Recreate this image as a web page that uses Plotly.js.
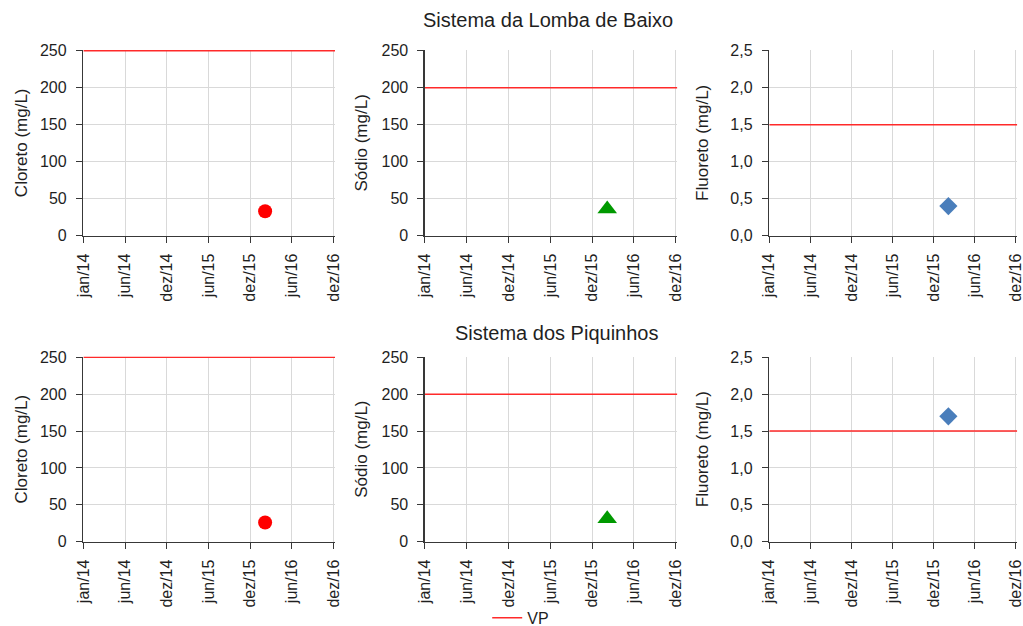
<!DOCTYPE html>
<html>
<head>
<meta charset="utf-8">
<script src="https://cdn.plot.ly/plotly-3.0.1.min.js"></script>
<style>html,body{margin:0;padding:0;background:#fff;}#chart{width:1023px;height:626px;}</style>
</head>
<body>
<div id="chart"></div>
<script>
// ---- data ----
const systems = ['Sistema da Lomba de Baixo', 'Sistema dos Piquinhos'];
const params = ['Cloreto (mg/L)', 'Sódio (mg/L)', 'Fluoreto (mg/L)'];
const sampleDates = ['2016-02-25'];
const cloretoLomba = [33];
const sodioLomba = [36];
const fluoretoLomba = [0.4];
const cloretoPiquinhos = [26];
const sodioPiquinhos = [31];
const fluoretoPiquinhos = [1.7];
const vpValues = [250, 200, 1.5];
const vpDates = ['2014-01-01', '2016-12-23'];
const tickDates = ['2014-01-01', '2014-06-30', '2014-12-27', '2015-06-25', '2015-12-22', '2016-06-19', '2016-12-16'];
const tickLabels = ['jan/14', 'jun/14', 'dez/14', 'jun/15', 'dez/15', 'jun/16', 'dez/16'];
const yMax = [250, 250, 2.5];
const yStep = [50, 50, 0.5];

// ---- styles ----
const markerStyles = [
  {symbol: 'circle', color: '#ff0000', size: 14},
  {symbol: 'triangle-up', color: '#009900', size: 17},
  {symbol: 'diamond', color: '#4a7ebb', size: 14}
];
const seriesRows = [
  [cloretoLomba, sodioLomba, fluoretoLomba],
  [cloretoPiquinhos, sodioPiquinhos, fluoretoPiquinhos]
];

const xDomains = [[0.0815, 0.3275], [0.4154, 0.6621], [0.752, 0.9944]];
const yDomains = [[0.6235, 0.9202], [0.1347, 0.4304]];
const yPadFrac = 0.004; // small headroom so a limit line at the top is not clipped
const titleStandoff = [8, 9, 17];
const fontFam = '"Liberation Sans", Arial, sans-serif';
const txtColor = '#1f1f1f';
const axisColor = '#383838';

const traces = [];
const layout = {
  width: 1023, height: 626,
  margin: {l: 0, r: 0, t: 0, b: 0, autoexpand: false},
  paper_bgcolor: '#fff', plot_bgcolor: '#fff',
  separators: ', ',
  font: {family: fontFam, size: 16, color: txtColor},
  showlegend: true,
  legend: {x: 0.509, xanchor: 'center', y: 0.013, yanchor: 'middle', orientation: 'h',
           font: {size: 16, color: txtColor}, bgcolor: 'rgba(0,0,0,0)'},
  annotations: []
};

let idx = 0;
for (let r = 0; r < 2; r++) {
  for (let c = 0; c < 3; c++) {
    idx++;
    const xa = 'x' + (idx === 1 ? '' : idx);
    const ya = 'y' + (idx === 1 ? '' : idx);
    traces.push({
      x: vpDates, y: [vpValues[c], vpValues[c]],
      xaxis: xa, yaxis: ya, mode: 'lines', name: 'VP',
      line: {color: '#ff2a2a', width: 1.5},
      showlegend: idx === 1, hoverinfo: 'skip', cliponaxis: false
    });
    traces.push({
      x: sampleDates, y: seriesRows[r][c],
      xaxis: xa, yaxis: ya, mode: 'markers', showlegend: false,
      marker: {symbol: markerStyles[c].symbol, color: markerStyles[c].color, size: markerStyles[c].size},
      cliponaxis: false
    });
    const axX = {
      domain: xDomains[c], anchor: ya, type: 'date',
      range: [vpDates[0], vpDates[1]],
      tickmode: 'array', tickvals: tickDates, ticktext: tickLabels,
      tickangle: -90, ticks: 'outside', ticklen: 6, tickcolor: axisColor,
      showline: true, linecolor: axisColor, linewidth: 1.5,
      showgrid: true, gridcolor: '#d9d9d9', gridwidth: 1,
      zeroline: false, ticklabelstandoff: 4, ticklabeloverflow: 'allow',
      tickfont: {size: 16, color: txtColor, family: fontFam}
    };
    const axY = {
      domain: yDomains[r], anchor: xa,
      range: [0, yMax[c] * (1 + yPadFrac)], dtick: yStep[c], tick0: 0,
      tickformat: c === 2 ? '.1f' : 'd',
      ticks: 'outside', ticklen: 6, tickcolor: axisColor,
      showline: true, linecolor: axisColor, linewidth: 1.5,
      showgrid: true, gridcolor: '#d9d9d9', gridwidth: 1,
      zeroline: false, ticklabelstandoff: 6, ticklabeloverflow: 'allow',
      tickfont: {size: 16, color: txtColor, family: fontFam},
      title: {text: params[c], font: {size: 17, color: txtColor, family: fontFam}, standoff: titleStandoff[c]}
    };
    layout['xaxis' + (idx === 1 ? '' : idx)] = axX;
    layout['yaxis' + (idx === 1 ? '' : idx)] = axY;
  }
}

layout.annotations.push({
  text: systems[0], xref: 'paper', yref: 'paper', x: 0.5357, y: 0.968,
  xanchor: 'center', yanchor: 'middle', showarrow: false,
  font: {size: 20, color: txtColor, family: fontFam}
});
layout.annotations.push({
  text: systems[1], xref: 'paper', yref: 'paper', x: 0.5435, y: 0.468,
  xanchor: 'center', yanchor: 'middle', showarrow: false,
  font: {size: 20, color: txtColor, family: fontFam}
});

Plotly.newPlot('chart', traces, layout, {displayModeBar: false, staticPlot: true});
</script>
</body>
</html>
